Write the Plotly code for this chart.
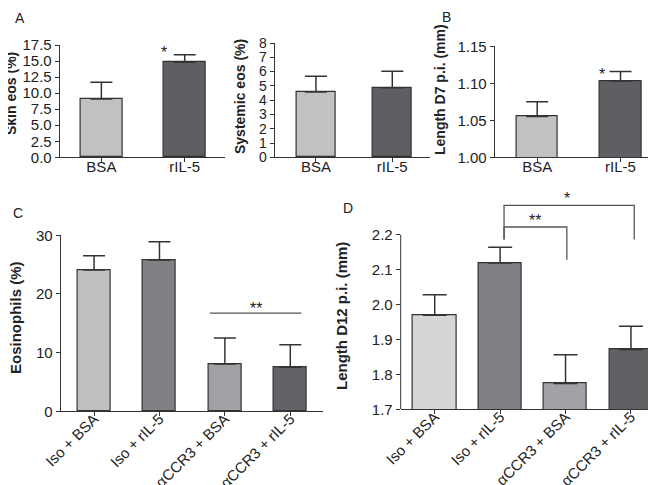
import plotly.graph_objects as go

W, H = 656, 485

# ---------------- data ----------------
groups_ab = ["BSA", "rIL-5"]
skin_eos = [9.1, 14.8]
skin_eos_sem = [2.6, 1.2]
systemic_eos = [4.57, 4.86]
systemic_eos_sem = [1.11, 1.17]
length_d7 = [1.055, 1.103]
length_d7_sem = [0.020, 0.013]

groups_cd = ["Iso + BSA", "Iso + rIL-5", "αCCR3 + BSA", "αCCR3 + rIL-5"]
eosinophils = [24.1, 25.8, 8.05, 7.5]
eosinophils_sem = [2.4, 3.1, 4.45, 3.85]
length_d12 = [1.969, 2.119, 1.774, 1.871]
length_d12_sem = [0.059, 0.045, 0.082, 0.067]

colors_ab = ["#c0c1c3", "#5e5f63"]
colors_c = ["#bfc0c2", "#808185", "#a0a1a4", "#626367"]
colors_d = ["#d5d6d6", "#808185", "#a1a2a5", "#606165"]

FONT = "Liberation Sans, Arial, Helvetica, sans-serif"
LINE = "#333333"


def px(x):
    return x / W


def py(y):
    return 1 - y / H


fig = go.Figure()


def add_bars(xs, ys, sem, colors, ax, width, capw):
    fig.add_trace(go.Bar(
        x=xs, y=ys, width=width,
        marker=dict(color=colors, line=dict(color=LINE, width=1.2)),
        error_y=dict(type="data", array=sem, arrayminus=[0] * len(sem),
                     symmetric=False, color=LINE, thickness=1.5, width=capw),
        xaxis="x" + ax, yaxis="y" + ax, showlegend=False, hoverinfo="skip",
    ))


add_bars(groups_ab, skin_eos, skin_eos_sem, colors_ab, "", 0.5, 11)
add_bars(groups_ab, systemic_eos, systemic_eos_sem, colors_ab, "2", 0.51, 11)
add_bars(groups_ab, length_d7, length_d7_sem, colors_ab, "3", 0.5, 11)
add_bars(groups_cd, eosinophils, eosinophils_sem, colors_c, "4", 0.5, 11)
add_bars(groups_cd, length_d12, length_d12_sem, colors_d, "5", 0.66, 12)

tickfont_a = dict(family=FONT, size=15, color="#222")


def xax(dom, rng, anchor, fontsize=15, angle=0, standoff=-8):
    return dict(domain=[px(dom[0]), px(dom[1])], range=rng, anchor=anchor,
                type="category", showline=True, linecolor=LINE, linewidth=1,
                ticks="outside", ticklen=4, tickcolor=LINE, showgrid=False,
                zeroline=False, tickangle=angle, automargin=False,
                ticklabelstandoff=standoff,
                tickfont=dict(family=FONT, size=fontsize, color="#222"))


def yax(dom, rng, anchor, showline=True, **kw):
    d = dict(domain=[py(dom[0]), py(dom[1])], range=rng, anchor=anchor,
             showline=showline, linecolor=LINE, linewidth=1,
             ticks="outside", ticklen=4, tickcolor=LINE, showgrid=False,
             zeroline=False, tickfont=tickfont_a, automargin=False)
    d.update(kw)
    return d


fig.update_layout(
    template="none",
    width=W, height=H,
    margin=dict(l=0, r=0, t=0, b=0, autoexpand=False),
    paper_bgcolor="white", plot_bgcolor="white",
    bargap=0,
    xaxis=xax([51.7, 216.7], [-0.5, 1.48], "y"),
    yaxis=yax([149.3, 37], [0, 17.5], "x", dtick=2.5, tickformat=".1f"),
    xaxis2=xax([266.7, 421.7], [-0.54, 1.49], "y2"),
    yaxis2=yax([149.3, 35], [0, 8], "x2", dtick=1,
               tickfont=dict(family=FONT, size=14, color="#222")),
    xaxis3=xax([486.7, 655], [-0.51, 1.51], "y3"),
    yaxis3=yax([149.3, 38.3], [1.0, 1.15], "x3", dtick=0.05, tickformat=".2f"),
    xaxis4=xax([52.7, 315], [-0.51, 3.5], "y4", fontsize=15, angle=-45, standoff=-12),
    yaxis4=yax([403.3, 227.3], [0, 30], "x4", dtick=10),
    xaxis5=xax([392.7, 655], [-0.52, 3.49], "y5", fontsize=15, angle=-45, standoff=-12),
    yaxis5=yax([401.3, 181.3], [1.7, 2.33], "x5", showline=False,
               tickvals=[1.7, 1.8, 1.9, 2.0, 2.1, 2.2], tickformat=".1f"),
)

shapes = []
# y-axis line for panel D (only up to 2.2)
shapes.append(dict(type="line", xref="x5 domain", yref="y5", x0=0, x1=0,
                   y0=1.7, y1=2.2, line=dict(color=LINE, width=1)))
# significance line panel C
shapes.append(dict(type="line", xref="x4", yref="y4", x0=1.77, x1=3.17,
                   y0=16.75, y1=16.75, line=dict(color="#555", width=1.3)))
# brackets panel D
br_col = dict(color="#555", width=1.3)
shapes.append(dict(type="path", xref="x5", yref="y5",
                   path="M 1.06 2.186 L 1.06 2.222 L 2.02 2.222 L 2.02 2.128",
                   line=br_col))
shapes.append(dict(type="path", xref="x5", yref="y5",
                   path="M 1.06 2.186 L 1.06 2.284 L 3.05 2.284 L 3.05 2.186",
                   line=br_col))
fig.update_layout(shapes=shapes)

ann = []
star_font = dict(family=FONT, size=16, color="#222")
ann.append(dict(x=1, y=16.3, xref="x", yref="y", text="*", showarrow=False,
                xshift=-21, font=star_font))
ann.append(dict(x=1, y=1.1125, xref="x3", yref="y3", text="*", showarrow=False,
                xshift=-19, font=star_font))
ann.append(dict(x=2.48, y=17.6, xref="x4", yref="y4", text="**", showarrow=False,
                font=star_font))
ann.append(dict(x=1.54, y=2.24, xref="x5", yref="y5", text="**", showarrow=False,
                font=star_font))
ann.append(dict(x=2.02, y=2.305, xref="x5", yref="y5", text="*", showarrow=False,
                font=star_font))

# panel letters
for letter, (lx, ly) in {"A": (12, 10), "B": (438, 9), "C": (10, 205), "D": (340, 200)}.items():
    ann.append(dict(x=px(lx), y=py(ly), xref="paper", yref="paper", text=letter,
                    showarrow=False, xanchor="center", yanchor="middle",
                    font=dict(family=FONT, size=14, color="#222")))

# axis titles (x is compensated for the rotated-box anchor offset)
titles = [
    ("Skin eos (%)", 8, 86, 14),
    ("Systemic eos (%)", 237, 89, 14),
    ("Length D7 p.i. (mm)", 437, 82, 14),
    ("Eosinophils (%)", 12, 310, 15),
    ("Length D12 p.i. (mm)", 338, 308, 15),
]
for t, tx, ty, fs in titles:
    ann.append(dict(x=px(tx - 5), y=py(ty), xref="paper", yref="paper",
                    text="<b>" + t + "</b>", textangle=-90, showarrow=False,
                    xanchor="center", yanchor="middle",
                    font=dict(family=FONT, size=fs, color="#222")))

fig.update_layout(annotations=ann)

fig.write_html("out.html")
